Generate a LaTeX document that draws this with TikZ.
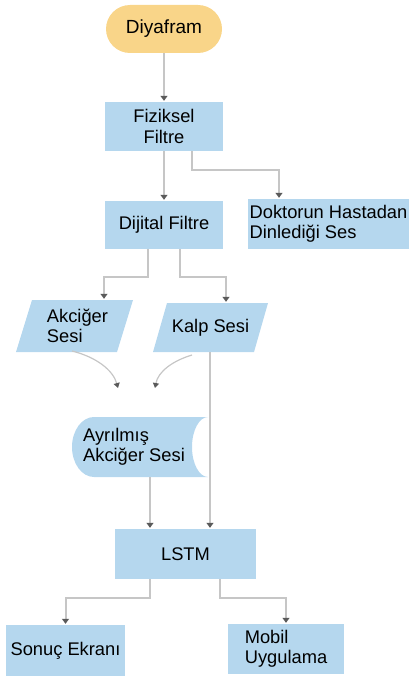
\documentclass[tikz,border=0pt]{standalone}
\usepackage{fontspec}
\setmainfont{Liberation Sans}
\usetikzlibrary{arrows.meta}
\definecolor{boxblue}{HTML}{B5D7EE}
\definecolor{termorange}{HTML}{F9D589}
\definecolor{linegray}{HTML}{C6C6C6}
\definecolor{tipgray}{HTML}{5A5A5A}
\begin{document}
\begin{tikzpicture}[x=1pt,y=-1pt,
  txt/.style={font=\fontsize{18.3}{20.5}\selectfont, align=left, inner sep=0pt, text=black},
  bluebox/.style={txt, fill=boxblue, draw=none, rectangle, align=center},
  shapeholder/.style={txt, draw=none, fill=none, rectangle},
  conn/.style={draw=linegray, line width=2pt, shorten >=1pt, -{Triangle[width=7pt,length=5pt,color=tipgray]}},
  curveconn/.style={draw=linegray, line width=1.2pt, -{Triangle[width=6pt,length=5pt,color=tipgray]}}]
\useasboundingbox (0,0) rectangle (409,677);

% shapes drawn as paths
\fill[boxblue] (16,352) -- (32,300) -- (133,300) -- (117,352) -- cycle;
\fill[boxblue] (153,352) -- (167,303) -- (268,303) -- (254,352) -- cycle;
\fill[boxblue] (94,417) -- (208,417) arc[start angle=270,end angle=90,x radius=16,y radius=30]
  -- (94,477) arc[start angle=90,end angle=270,x radius=22,y radius=30] -- cycle;

% nodes
\node[txt, font=\fontsize{19}{21}\selectfont, fill=termorange, rounded corners=24pt, minimum width=116pt, minimum height=48pt, align=center] (diy) at (164,29) {Diyafram};
\node[bluebox, minimum width=118pt, minimum height=49pt] (fiz) at (164,126.5) {Fiziksel\\Filtre};
\node[bluebox, minimum width=118pt, minimum height=48pt] (dij) at (164,225) {Dijital Filtre};
\node[bluebox, minimum width=161pt, minimum height=50pt, align=left] (dok) at (328.5,224) {Doktorun Hastadan\\Dinlediği Ses};
\node[shapeholder, minimum width=101pt, minimum height=52pt] (akc) at (77.5,326) {Akciğer\\Sesi};
\node[shapeholder, minimum width=101pt, minimum height=49pt] (kalp) at (210.5,327.5) {Kalp Sesi};
\node[shapeholder, minimum width=136pt, minimum height=60pt] (ayr) at (140,447) {};
\node[txt] (ayrt) at (134,447) {Ayrılmış\\Akciğer Sesi};
\node[bluebox, minimum width=141pt, minimum height=50pt] (lstm) at (185.5,554) {LSTM};
\node[bluebox, minimum width=119pt, minimum height=51pt] (sonuc) at (65.5,650.5) {Sonuç Ekranı};
\node[bluebox, minimum width=116pt, minimum height=50pt, align=left] (mobil) at (286,649) {Mobil\\Uygulama};

\coordinate (c1s) at (72,351);
\coordinate (c1e) at (118,388);
\coordinate (c2s) at (192,355);
\coordinate (c2e) at (155,388);

% connectors
\draw[conn] (diy.south) -- (fiz.north);
\draw[conn] (fiz.south) -- (dij.north);
\draw[conn] ([xshift=28pt]fiz.south) -- ++(0,19) -| ([xshift=-49.5pt]dok.north);
\draw[conn] ([xshift=-16pt]dij.south) -- ++(0,28) -| ([xshift=26.5pt]akc.north);
\draw[conn] ([xshift=16pt]dij.south) -- ++(0,28) -| ([xshift=15.5pt]kalp.north);
\draw[curveconn] (c1s) .. controls (96,357) and (113,370) .. (c1e);
\draw[curveconn] (c2s) .. controls (172,361) and (158,372) .. (c2e);
\draw[conn] ([xshift=-0.5pt]kalp.south) -- ([xshift=24.5pt]lstm.north);
\draw[conn] ([xshift=10pt]ayr.south) -- ([xshift=-35.5pt]lstm.north);
\draw[conn] ([xshift=-35.5pt]lstm.south) -- ++(0,19) -| (sonuc.north);
\draw[conn] ([xshift=34.5pt]lstm.south) -- ++(0,19) -| (mobil.north);
\end{tikzpicture}
\end{document}
